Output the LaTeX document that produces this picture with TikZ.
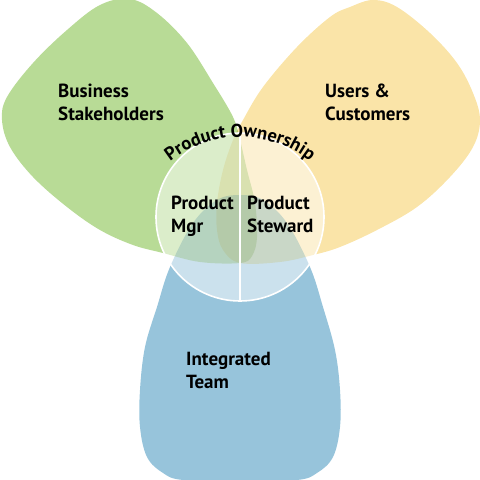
\documentclass[tikz,border=0pt]{standalone}
\usepackage{fontspec}
\newfontfamily\labelfont{PT Sans}
\usetikzlibrary{calc,decorations.text}

\definecolor{bizgreen}{RGB}{184,219,150}
\definecolor{usryellow}{RGB}{250,228,168}
\definecolor{teamblue}{RGB}{151,196,219}

\begin{document}
\begin{tikzpicture}[
  x=1pt, y=1pt,
  petal/.style={blend mode=multiply},
  lbl/.style={anchor=base west, inner sep=0pt, align=left,
              font=\labelfont\bfseries\fontsize{19}{23.5}\selectfont},
  veil/.style={fill=white, fill opacity=0.5, draw=white, line width=1.6pt}
]
\useasboundingbox (0,0) rectangle (480,480);

% the three overlapping petals
\begin{scope}
\clip (0,0) rectangle (480,480);
\fill[petal, bizgreen] plot[smooth cycle, tension=0.6] coordinates {
  (240,217) (200,218) (163,227) (133,235) (100,250) (67,273) (33,303)
  (10,333) (2,360) (7,383) (33,417) (67,450) (100,475) (130,481)
  (157,467) (187,437) (213,397) (233,363) (240,340) (247,310)
  (255,277) (257,243) (252,224)};
\fill[petal, usryellow] plot[smooth cycle, tension=0.6] coordinates {
  (240,217) (280,218) (313,225) (340,233) (377,250) (417,273) (450,303)
  (473,333) (480,360) (473,387) (457,417) (430,447) (397,473) (373,480)
  (350,473) (330,463) (297,433) (263,393) (243,360) (233,340) (223,310)
  (217,277) (217,250) (223,230)};
\fill[petal, teamblue] plot[smooth cycle, tension=0.6] coordinates {
  (240,285) (263,280) (287,257) (310,213) (323,173) (335,130) (340,90)
  (340,53) (333,23) (317,7) (297,0) (240,-1) (183,0) (163,7) (147,23)
  (140,53) (140,90) (145,133) (157,173) (170,213) (193,257) (217,280)};
\end{scope}

% product ownership circle
\coordinate (po) at (240,263);
\fill[veil] (po) circle[radius=84];
\draw[white, line width=1.6pt] ($(po)+(0,84)$) -- ($(po)+(0,-84)$);

\path[decorate, decoration={text along path, text align=center,
  text={|\labelfont\bfseries\fontsize{18.5}{20}\selectfont|Product Ownership}}]
  (240,230) ++(140:113) arc[start angle=140, end angle=40, radius=113];

\node[lbl] (biz) at (58,359) {Business\\Stakeholders};
\node[lbl] (users) at (325,359) {Users \&\\Customers};
\node[lbl] (mgr) at (171,247) {Product\\Mgr};
\node[lbl] (steward) at (247,247) {Product\\Steward};
\node[lbl] (team) at (186,91) {Integrated\\Team};
\end{tikzpicture}
\end{document}
